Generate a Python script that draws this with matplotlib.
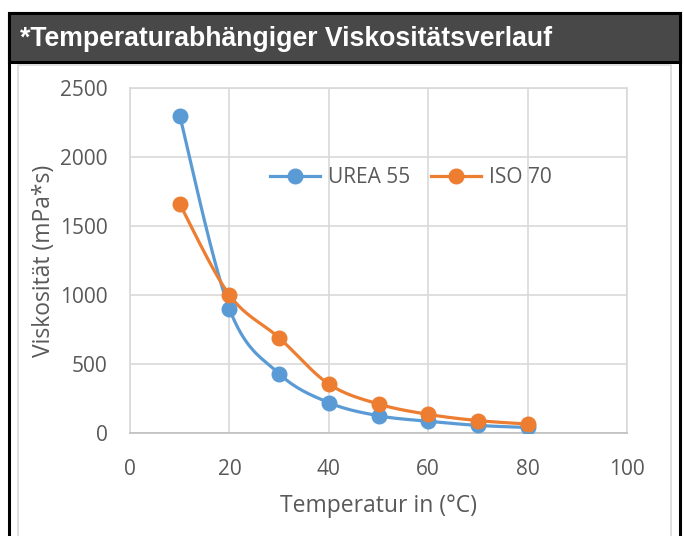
import numpy as np
import matplotlib
matplotlib.use('Agg')
import matplotlib.pyplot as plt
import matplotlib.patches as mpatches

# ─── Data ──────────────────────────────────────────────────────────────────────
temperature = [10, 20, 30, 40, 50, 60, 70, 80]
urea_55 = [2300, 900, 430, 220, 125, 85, 55, 40]
iso_70 = [1660, 1000, 690, 355, 210, 135, 90, 65]
x_ticks = [0, 20, 40, 60, 80, 100]
y_ticks = [0, 500, 1000, 1500, 2000, 2500]

BLUE = '#5B9BD5'
ORANGE = '#ED7D31'
GRID = '#D9D9D9'
TEXT = '#595959'
FONT = ['Open Sans', 'DejaVu Sans']


def smooth(xs, ys, n=30):
    """Catmull-Rom curve through the points (like Excel's smoothed line)."""
    p = np.column_stack([xs, ys]).astype(float)
    p = np.vstack([p[0], p, p[-1]])
    out = []
    t = np.linspace(0, 1, n)[:, None]
    for i in range(1, len(p) - 2):
        p0, p1, p2, p3 = p[i - 1], p[i], p[i + 1], p[i + 2]
        c1 = p1 + (p2 - p0) / 6
        c2 = p2 - (p3 - p1) / 6
        seg = ((1 - t) ** 3) * p1 + 3 * ((1 - t) ** 2) * t * c1 \
            + 3 * (1 - t) * t ** 2 * c2 + t ** 3 * p2
        out.append(seg)
    s = np.vstack(out)
    return s[:, 0], s[:, 1]


W, H = 684, 536
fig = plt.figure(figsize=(W / 100, H / 100), dpi=100)
fig.patch.set_facecolor('white')

# frame: black outer border, dark title bar, light inner chart border
fig.patches.append(mpatches.Rectangle((9 / W, -0.01), 671 / W, 1 - 13 / H + 0.01,
                                      transform=fig.transFigure, facecolor='white',
                                      edgecolor='black', linewidth=2.2, zorder=0))
fig.patches.append(mpatches.Rectangle((9 / W, 1 - 62 / H), 671 / W, 49 / H,
                                      transform=fig.transFigure, facecolor='#484848',
                                      edgecolor='black', linewidth=2.2, zorder=1))
fig.patches.append(mpatches.Rectangle((17.5 / W, -0.01), 653 / W, 1 - 65 / H + 0.01,
                                      transform=fig.transFigure, facecolor='none',
                                      edgecolor='#D9D9D9', linewidth=1.2, zorder=1))
fig.text(20 / W, 1 - 39 / H, '*Temperaturabhängiger Viskositätsverlauf',
         color='white', fontsize=19.2, fontweight='bold', family='Liberation Sans',
         va='center', ha='left')

ax = fig.add_axes([130 / W, 1 - 433 / H, 497 / W, 345 / H])
ax.set_zorder(5)
ax.set_xlim(0, 100)
ax.set_ylim(0, 2500)
ax.set_xticks(x_ticks)
ax.set_yticks(y_ticks)
ax.grid(True, color=GRID, linewidth=1.2)
ax.set_axisbelow(True)
for spine in ax.spines.values():
    spine.set_edgecolor(GRID)
    spine.set_linewidth(1.2)
ax.spines['bottom'].set_edgecolor('#BFBFBF')
ax.tick_params(length=0, labelsize=15, labelcolor=TEXT)
ax.tick_params(axis='x', pad=19)
ax.tick_params(axis='y', pad=16)
for lab in ax.get_xticklabels() + ax.get_yticklabels():
    lab.set_family(FONT)

for ys, color, name in [(urea_55, BLUE, 'UREA 55'), (iso_70, ORANGE, 'ISO 70')]:
    sx, sy = smooth(temperature, ys)
    ax.plot(sx, sy, color=color, linewidth=2.3, solid_capstyle='round', zorder=3)
    ax.plot(temperature, ys, 'o', color=color, markersize=10.5, zorder=4)
    ax.plot([], [], '-o', color=color, linewidth=2.3, markersize=10.5, label=name)

ax.set_xlabel('Temperatur in (°C)', fontsize=16.5, color=TEXT, family=FONT, labelpad=10)
ax.set_ylabel('Viskosität (mPa*s)', fontsize=16.5, color=TEXT, family=FONT, labelpad=3)

leg = ax.legend(loc='center', bbox_to_anchor=(0.565, 0.74), ncol=2, frameon=False,
                handlelength=2.4, handletextpad=0.4, columnspacing=1.0,
                prop={'family': FONT, 'size': 15})
for t in leg.get_texts():
    t.set_color(TEXT)

fig.savefig('out.png', dpi=100, facecolor='white')
